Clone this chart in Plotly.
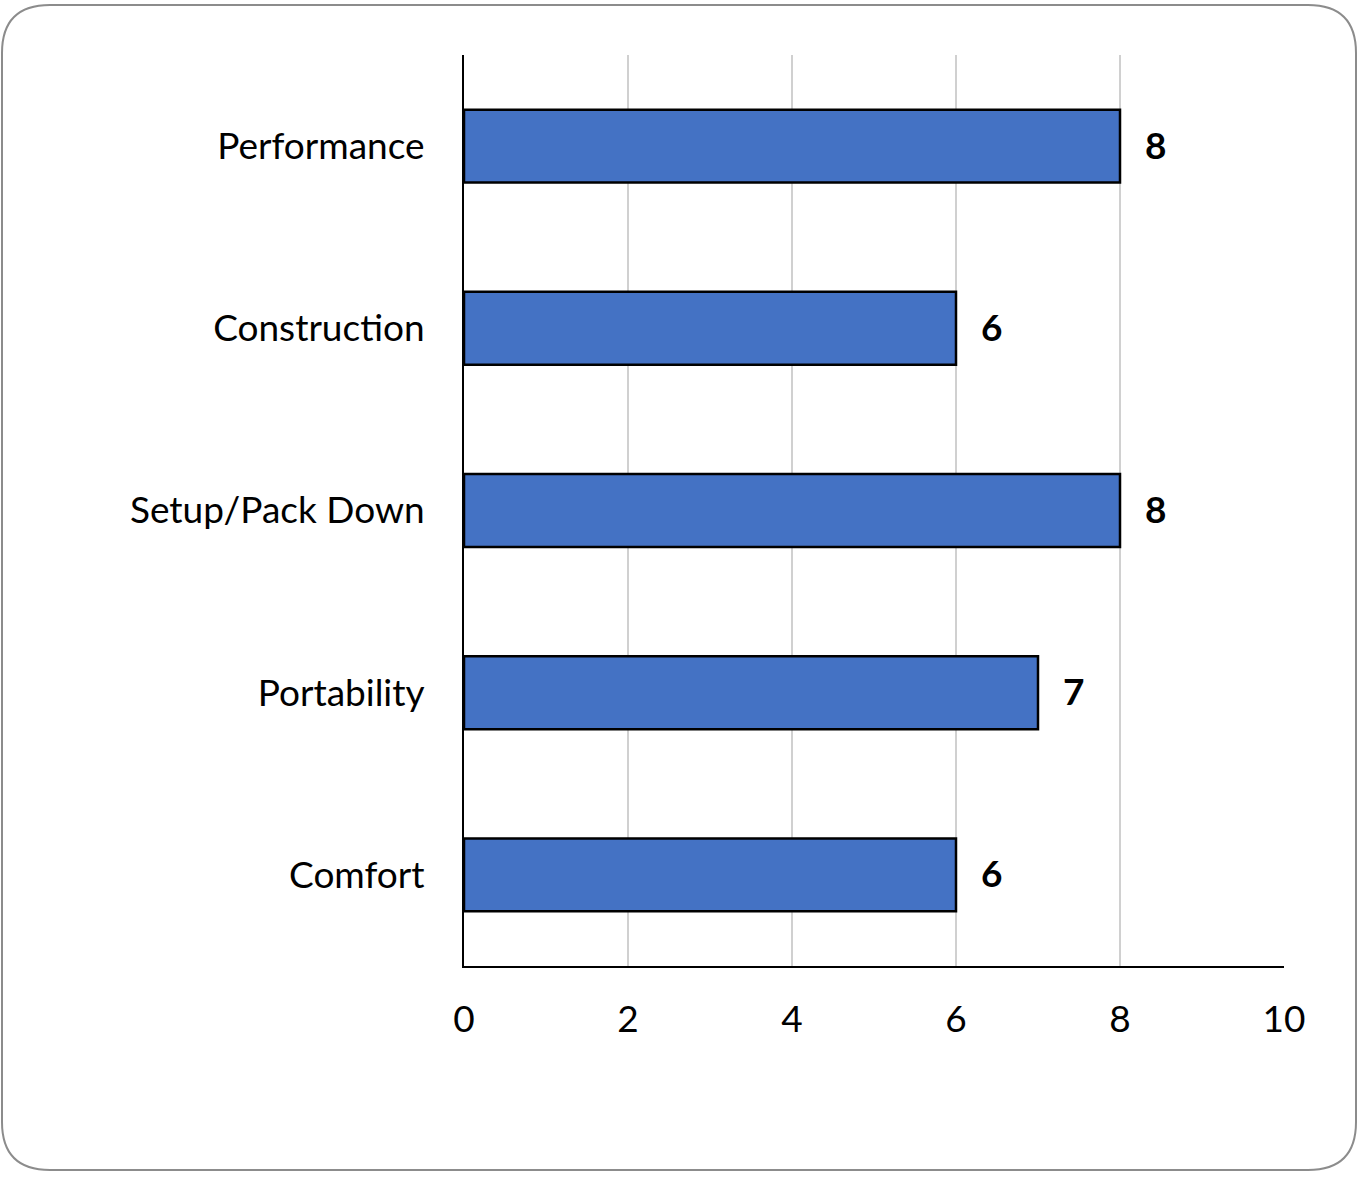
import plotly.graph_objects as go

categories = ["Performance", "Construction", "Setup/Pack Down", "Portability", "Comfort"]
scores = [8, 6, 8, 7, 6]
x_ticks = [0, 2, 4, 6, 8, 10]

W, H = 1361, 1177
L, R, T, B = 464, 1284, 55, 966
pw, ph = R - L, B - T
FONT = "Lato"

fig = go.Figure(go.Bar(
    x=scores, y=categories, orientation="h",
    marker=dict(color="#4472C4", line=dict(color="#000000", width=2.5)),
    hoverinfo="skip",
))

for c, v in zip(categories, scores):
    fig.add_annotation(x=v, y=c, text=f"<b>{v}</b>", showarrow=False,
                       xanchor="left", yanchor="middle", xshift=23, yshift=2,
                       font=dict(family=FONT, size=37, color="#000000"))

# rounded outer border
def px(x):
    return (x - L) / pw

def py(y):
    return (B - y) / ph

x0, x1, y0, y1, r = 2, 1356, 5, 1170, 48
path = (f"M {px(x0 + r)} {py(y0)} L {px(x1 - r)} {py(y0)} "
        f"Q {px(x1)} {py(y0)} {px(x1)} {py(y0 + r)} "
        f"L {px(x1)} {py(y1 - r)} Q {px(x1)} {py(y1)} {px(x1 - r)} {py(y1)} "
        f"L {px(x0 + r)} {py(y1)} Q {px(x0)} {py(y1)} {px(x0)} {py(y1 - r)} "
        f"L {px(x0)} {py(y0 + r)} Q {px(x0)} {py(y0)} {px(x0 + r)} {py(y0)} Z")
fig.add_shape(type="path", path=path, xref="paper", yref="paper",
              line=dict(color="#8c8c8c", width=2), layer="below")

fig.update_layout(
    width=W, height=H,
    margin=dict(l=L, r=W - R, t=T, b=H - B, pad=0),
    paper_bgcolor="white", plot_bgcolor="white",
    bargap=0.6, showlegend=False,
    font=dict(family=FONT, size=37, color="#000000"),
    xaxis=dict(range=[0, 10], tickvals=x_ticks, showgrid=True,
               gridcolor="#d0d0d0", gridwidth=2, zeroline=False,
               showline=True, linecolor="#000000", linewidth=2,
               ticks="", ticklabelstandoff=20,
               tickfont=dict(family=FONT, size=37)),
    yaxis=dict(categoryorder="array", categoryarray=categories[::-1],
               showline=True, linecolor="#000000", linewidth=2,
               showgrid=False, ticks="", ticklabelstandoff=30,
               tickfont=dict(family=FONT, size=37)),
)

fig.write_html("out.html", config={"displayModeBar": False},
               post_script="document.body.style.margin='0px';document.body.style.overflow='hidden';")
